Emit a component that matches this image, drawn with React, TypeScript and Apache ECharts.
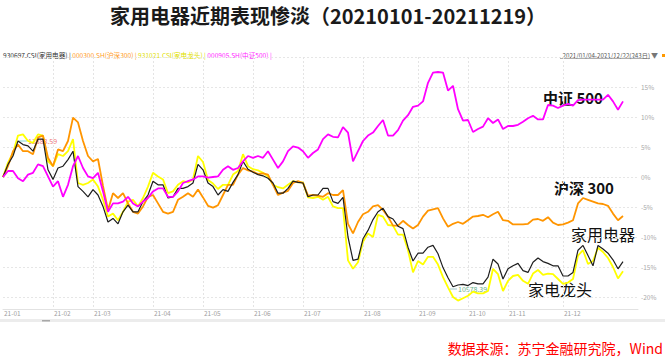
import React, { useEffect, useRef } from "react";
import * as echarts from "echarts";

const months = ["21-01", "21-02", "21-03", "21-04", "21-05", "21-06", "21-07", "21-08", "21-09", "21-10", "21-11", "21-12"];
const monthPointCounts = [10, 8, 12, 10, 10, 10, 12, 11, 10, 8, 11, 16];

// 930697.CSI 家用电器 (%)
const homeAppliances = [
  0, 2.1, 3.5, 6.0, 5.4, 5.2, 4.3, 6.3, 6.3, 1.2,
  -0.4, 1.5, 1.8, 2.9, 4.3, -1.6, -2.4, -3.3, -2.1, -3.0,
  -4.9, -7.5, -6.9, -7.8, -5.8, -4.7, -5.8, -5.8, -4.1, -3.0,
  -0.7, -1.3, -1.3, -3.5, -3.3, -1.9, -1.9, -1.6, -1.0, 2.1,
  1.2, -1.0, -1.6, -3.0, -2.1, -2.4, -0.9, 0.4, 2.6, 1.3,
  0.8, 0.4, 0.2, -0.2, -1.0, -2.7, -2.7, -1.9, -0.7, -0.9,
  -1.0, -3.3, -3.0, -3.0, -1.9, -1.9, -4.1, -4.4, -3.4, -10.0,
  -13.9, -13.7, -10.3, -8.9, -7.1, -5.8, -5.2, -6.6, -7.0, -8.2,
  -8.6, -11.7, -14.0, -12.7, -12.7, -11.7, -11.4, -12.8, -15.1, -16.8,
  -18.3, -18.0, -17.9, -18.1, -17.6, -17.8, -17.8, -16.7, -13.7, -14.5,
  -17.0, -15.3, -14.8, -14.4, -15.6, -15.9, -14.2, -13.5, -14.1, -14.4,
  -14.8, -14.8, -16.5, -16.5, -15.9, -12.2, -11.4, -13.1, -14.8, -11.4,
  -12.0, -12.7, -13.8, -15.3, -14.1,
];

// 000300.SH 沪深300 (%)
const csi300 = [
  0, 1.8, 4.3, 5.4, 4.3, 4.3, 3.8, 6.6, 6.9, 3.2,
  1.8, 4.6, 4.3, 6.0, 9.9, 9.1, 6.0, 3.5, 2.6, 3.0,
  -1.5, -5.5, -2.7, -3.5, -2.7, -4.4, -5.8, -6.1, -4.9, -3.3,
  -3.0, -4.4, -5.8, -6.1, -5.8, -3.8, -3.3, -2.7, -3.3, -2.1,
  -3.4, -4.8, -5.1, -4.7, -3.0, -1.3, -1.3, 0.4, 1.5, 1.1,
  0.9, 0.5, 0.6, 0.4, -1.3, -3.0, -2.6, -2.3, -1.0, -0.7,
  -1.0, -3.1, -3.0, -3.1, -3.3, -2.7, -3.0, -3.0, -2.2, -7.8,
  -9.4, -7.5, -6.2, -5.8, -4.9, -4.7, -5.5, -6.6, -8.1, -8.1,
  -7.3, -8.0, -8.6, -8.0, -6.6, -5.6, -5.4, -5.2, -6.9, -8.3,
  -7.8, -7.5, -7.8, -7.2, -6.6, -6.5, -6.3, -6.7, -6.2, -5.8,
  -7.2, -7.3, -7.9, -7.9, -7.9, -7.8, -7.1, -7.0, -7.3, -6.7,
  -7.6, -8.0, -7.9, -7.6, -7.2, -4.4, -3.5, -3.8, -4.1, -4.4,
  -4.5, -4.8, -6.1, -7.2, -6.5,
];

// 931021.CSI 家电龙头 (%)
const leaders = [
  0, 2.4, 4.0, 6.9, 7.1, 6.0, 5.7, 7.1, 6.9, 2.6,
  1.8, 3.8, 3.5, 4.3, 6.3, -1.0, -1.3, -1.0, -0.4, -1.6,
  -3.8, -6.6, -6.1, -7.2, -5.8, -4.1, -3.8, -4.9, -3.5, -1.6,
  0.7, 0.1, -0.4, -2.7, -2.4, -1.3, -0.7, -0.9, -0.4, 3.5,
  2.5, -0.5, -1.1, -2.0, -1.3, -1.3, 0.4, 1.0, 3.8, 1.8,
  1.3, 1.1, 0.7, 0.1, -1.3, -1.7, -1.9, -1.3, -0.7, -0.9,
  -0.9, -3.4, -3.5, -3.3, -3.8, -3.3, -4.9, -5.2, -5.2, -13.9,
  -15.3, -14.2, -10.8, -9.4, -10.0, -6.3, -6.6, -8.0, -8.1, -9.6,
  -9.6, -12.2, -15.9, -14.0, -14.6, -13.3, -13.3, -14.6, -16.7, -18.4,
  -20.0, -20.6, -20.2, -19.8, -19.1, -19.4, -19.4, -19.0, -15.3, -16.2,
  -19.0, -17.3, -16.5, -16.3, -17.3, -17.8, -16.1, -15.5, -16.3, -16.1,
  -16.2, -17.0, -17.8, -17.6, -17.0, -13.1, -12.2, -14.5, -14.0, -11.8,
  -12.5, -13.5, -15.0, -16.9, -15.7,
];

// 000905.SH 中证500 (%)
const csi500 = [
  0, 1.0, 1.0, -0.2, -0.7, 0.4, 0.7, 2.1, 1.8, 0.1,
  -1.6, -0.7, -3.3, -1.3, 1.8, 3.5, 1.5, 0.1, -0.2, 0.7,
  -2.4, -5.8, -4.4, -4.4, -4.1, -3.3, -4.4, -4.9, -4.1, -3.5,
  -2.4, -1.9, -1.9, -3.3, -3.3, -2.4, -1.0, -0.7, -0.4, 0.1,
  0.1, -0.1, 0.0, 0.1, 1.2, 1.8, 1.2, 1.5, 2.6, 3.5,
  3.2, 3.5, 3.2, 4.3, 2.9, 1.5, 2.6, 4.3, 5.1, 4.9,
  4.3, 3.2, 4.0, 4.6, 6.3, 7.1, 6.7, 6.6, 8.3, 7.4,
  2.6, 4.3, 6.0, 6.9, 7.4, 8.5, 9.5, 6.9, 6.9, 7.8,
  9.4, 10.3, 11.7, 11.9, 12.6, 15.7, 17.4, 17.5, 17.4, 14.4,
  15.2, 11.3, 9.4, 9.5, 7.5, 8.0, 8.4, 9.8, 9.0, 9.6,
  8.0, 8.5, 8.5, 8.7, 9.2, 9.8, 10.2, 9.6, 9.6, 12.0,
  11.9, 11.5, 11.9, 12.2, 11.9, 12.8, 12.9, 12.9, 12.9, 12.9,
  12.9, 13.7, 12.6, 11.2, 12.6,
];

const titleText = "家用电器近期表现惨淡（20210101-20211219）";
const sourceText = "数据来源：苏宁金融研究院，Wind";
const rangeText = "2021/01/04-2021/12/22(243日)";
const maxLabel = "13883.59";
const minLabel = "10578.39";

const FONT = '"Noto Sans CJK SC", "Noto Sans", sans-serif';

export default function App() {
  const ref = useRef<HTMLDivElement>(null);

  useEffect(() => {
    if (!ref.current) return;
    const chart = echarts.init(ref.current, undefined, { renderer: "svg" });

    const categories: string[] = [];
    const monthStarts = new Set<number>();
    months.forEach((m, mi) => {
      monthStarts.add(categories.length);
      for (let j = 0; j < monthPointCounts[mi]; j++) categories.push(m + "#" + j);
    });

    const txt = (text: string, x: number, y: number, font: string, fill: string, align = "left") => ({
      type: "text",
      silent: true,
      style: { text, x, y, font, fill, align, textAlign: align, verticalAlign: "middle", textVerticalAlign: "middle" },
    });

    const legendRich = (c: string) => ({ fill: c, fontSize: 6.6, fontFamily: FONT });

    chart.setOption({
      animation: false,
      backgroundColor: "#ffffff",
      grid: { left: 3, right: 30, top: 57, height: 252, containLabel: false },
      xAxis: {
        type: "category",
        boundaryGap: false,
        data: categories,
        axisLine: { show: true, onZero: false, lineStyle: { color: "#e2e2e2", width: 1 } },
        axisTick: { show: false },
        axisLabel: {
          interval: (i: number) => monthStarts.has(i),
          formatter: (v: string) => v.slice(0, 5),
          color: "#a0a0a0",
          fontSize: 6.5,
          fontFamily: FONT,
          align: "left",
          margin: 1,
          padding: [0, 0, 0, 1],
        },
        splitLine: {
          show: true,
          interval: (i: number) => i > 0 && monthStarts.has(i),
          lineStyle: { color: "#e4e4e4", type: [2, 2], width: 1 },
        },
      },
      yAxis: {
        type: "value",
        position: "right",
        min: -22,
        max: 20,
        interval: 1,
        axisLine: { show: false },
        axisTick: { show: false },
        axisLabel: {
          formatter: (v: number) => (Math.round(v) % 5 === 0 && v > -21 && v < 20 ? v + "%" : ""),
          color: "#aaaaaa",
          fontSize: 6.5,
          fontFamily: FONT,
          margin: 3,
        },
        splitLine: {
          show: true,
          lineStyle: {
            color: ["rgba(0,0,0,0)", "rgba(0,0,0,0)", "#e6e6e6", "rgba(0,0,0,0)", "rgba(0,0,0,0)"],
            type: [2, 2],
            width: 1,
          },
        },
      },
      series: [
        { name: "家电龙头", type: "line", data: leaders, symbol: "none", lineStyle: { color: "#ffff00", width: 1.8 }, itemStyle: { color: "#ffff00" } },
        { name: "沪深300", type: "line", data: csi300, symbol: "none", lineStyle: { color: "#ff9500", width: 1.8 }, itemStyle: { color: "#ff9500" } },
        { name: "家用电器", type: "line", data: homeAppliances, symbol: "none", lineStyle: { color: "#1e1e1e", width: 1.2 }, itemStyle: { color: "#1e1e1e" } },
        { name: "中证500", type: "line", data: csi500, symbol: "none", lineStyle: { color: "#ff00ff", width: 1.8 }, itemStyle: { color: "#ff00ff" } },
      ],
      graphic: [
        txt(titleText, 328, 15, `bold 20px ${FONT}`, "#1a1a1a", "center"),
        {
          type: "text",
          silent: true,
          style: {
            x: 3,
            y: 55,
            verticalAlign: "middle",
            textVerticalAlign: "middle",
            fontSize: 6.6,
            fontFamily: FONT,
            text: "{a|930697.CSI(家用电器) | }{b|000300.SH(沪深300) | }{c|931021.CSI(家电龙头) | }{d|000905.SH(中证500) |}",
            rich: { a: legendRich("#333333"), b: legendRich("#ff9a1a"), c: legendRich("#e0e000"), d: legendRich("#ff22ff") },
          },
        },
        txt(rangeText, 650, 55, `6.2px ${FONT}`, "#555555", "right"),
        { type: "line", silent: true, shape: { x1: 560, y1: 58.5, x2: 650, y2: 58.5 }, style: { stroke: "#777777", lineWidth: 0.6 } },
        txt("▼", 651, 55, `7px ${FONT}`, "#777777"),
        { type: "rect", silent: true, shape: { x: 662, y: 54, width: 3, height: 3 }, style: { fill: "#ff9900" } },
        txt("中证 500", 573, 97, `bold 15px ${FONT}`, "#111111", "center"),
        txt("沪深 300", 584, 187, `bold 15px ${FONT}`, "#111111", "center"),
        txt("家用电器", 603, 234, `16px ${FONT}`, "#111111", "center"),
        txt("家电龙头", 560, 289, `16px ${FONT}`, "#111111", "center"),
        { type: "line", silent: true, shape: { x1: 19, y1: 141, x2: 27, y2: 141 }, style: { stroke: "#66cccc", lineWidth: 0.8 } },
        txt(maxLabel, 28, 141, `7px ${FONT}`, "#ee7777"),
        { type: "line", silent: true, shape: { x1: 450, y1: 289, x2: 457, y2: 289 }, style: { stroke: "#88bbbb", lineWidth: 0.8 } },
        txt(minLabel, 458, 289, `7px ${FONT}`, "#66b08a"),
        { type: "rect", silent: true, shape: { x: 0, y: 319, width: 665, height: 3 }, style: { fill: "#ececec" } },
        { type: "rect", silent: true, shape: { x: 42, y: 320, width: 8, height: 1.5 }, style: { fill: "#a8a8a8" } },
        txt(sourceText, 663, 348, `14px ${FONT}`, "#ff0000", "right"),
      ],
    });

    return () => chart.dispose();
  }, []);

  return (
    <div
      ref={ref}
      style={{ position: "absolute", left: 0, top: 0, width: 668, height: 357, background: "#fff" }}
    />
  );
}
